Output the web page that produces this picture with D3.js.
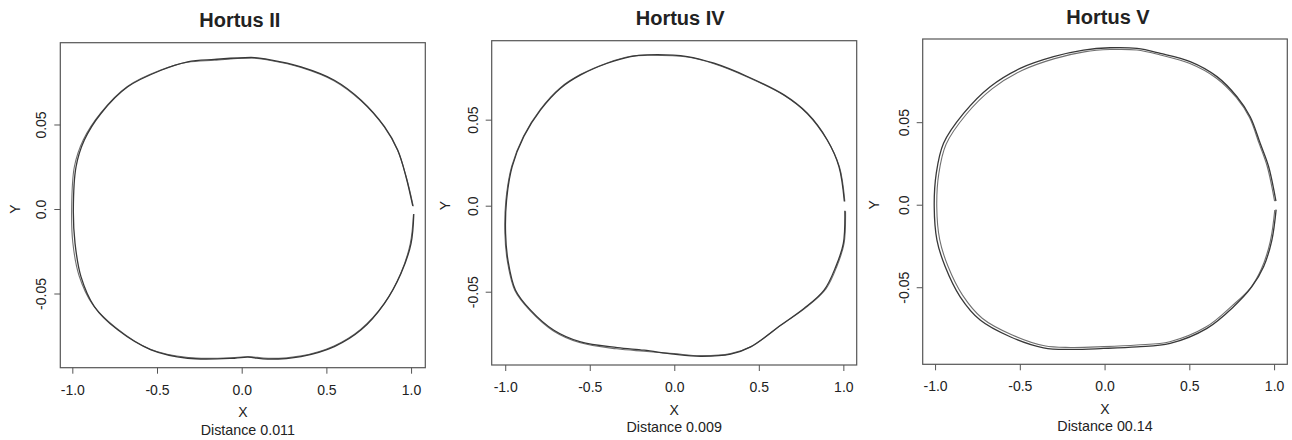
<!DOCTYPE html>
<html>
<head>
<meta charset="utf-8">
<script src="https://cdn.jsdelivr.net/npm/d3@7"></script>
<style>
  html, body { margin: 0; padding: 0; background: #fff; }
  svg { display: block; }
  text { font-family: "Liberation Sans", Arial, Helvetica, sans-serif; fill: #222; }
</style>
</head>
<body>
<svg id="chart" width="1292" height="440"></svg>
<script>
// ---------------- data ----------------
const titles = ["Hortus II", "Hortus IV", "Hortus V"];
const distanceLabels = ["Distance 0.011", "Distance 0.009", "Distance 00.14"];
const xAxisLabel = "X";
const yAxisLabel = "Y";
const xTickValues = [-1, -0.5, 0, 0.5, 1];
const xTickLabels = ["-1.0", "-0.5", "0.0", "0.5", "1.0"];
const yTickValues = [-0.05, 0, 0.05];
const yTickLabels = ["-0.05", "0.0", "0.05"];

// outline traces (x, y); two overlapping outlines per panel
const hortusII_a = [[1.010,0.0018],[0.970,0.0191],[0.921,0.0349],[0.843,0.0487],[0.705,0.0644],[0.547,0.0762],[0.350,0.0841],[0.154,0.0885],[0.075,0.0896],[-0.161,0.0885],[-0.319,0.0871],[-0.476,0.0821],[-0.673,0.0723],[-0.831,0.0565],[-0.929,0.0408],[-0.978,0.0250],[-0.994,-0.0006],[-0.984,-0.0203],[-0.949,-0.0400],[-0.870,-0.0577],[-0.732,-0.0715],[-0.535,-0.0833],[-0.319,-0.0883],[-0.043,-0.0883],[0.035,-0.0877],[0.154,-0.0888],[0.350,-0.0873],[0.547,-0.0814],[0.705,-0.0715],[0.843,-0.0558],[0.941,-0.0380],[1.000,-0.0203],[1.016,-0.0030]];
const hortusII_b = [[1.013,0.0016],[0.972,0.0188],[0.921,0.0346],[0.843,0.0484],[0.705,0.0640],[0.547,0.0758],[0.350,0.0838],[0.154,0.0882],[0.075,0.0893],[-0.161,0.0880],[-0.320,0.0868],[-0.478,0.0822],[-0.675,0.0725],[-0.833,0.0568],[-0.935,0.0410],[-0.988,0.0250],[-1.004,-0.0003],[-0.997,-0.0200],[-0.960,-0.0395],[-0.880,-0.0565],[-0.745,-0.0700],[-0.540,-0.0830],[-0.315,-0.0879],[-0.040,-0.0879],[0.040,-0.0873],[0.156,-0.0884],[0.352,-0.0869],[0.545,-0.0810],[0.702,-0.0712],[0.840,-0.0561],[0.938,-0.0383],[0.995,-0.0206],[1.014,-0.0032]];

const hortusIV_a = [[1.006,0.0025],[0.974,0.0227],[0.905,0.0382],[0.787,0.0537],[0.649,0.0644],[0.432,0.0751],[0.235,0.0828],[0.077,0.0867],[-0.160,0.0877],[-0.258,0.0867],[-0.396,0.0828],[-0.554,0.0760],[-0.673,0.0683],[-0.791,0.0557],[-0.890,0.0402],[-0.959,0.0227],[-0.992,0.0033],[-0.998,-0.0161],[-0.984,-0.0316],[-0.939,-0.0491],[-0.850,-0.0607],[-0.712,-0.0724],[-0.554,-0.0792],[-0.337,-0.0825],[-0.179,-0.0840],[-0.002,-0.0863],[0.156,-0.0875],[0.333,-0.0863],[0.452,-0.0821],[0.629,-0.0695],[0.767,-0.0598],[0.886,-0.0491],[0.955,-0.0355],[1.000,-0.0219],[1.009,-0.0030]];
const hortusIV_b = [[1.009,0.0024],[0.977,0.0225],[0.905,0.0380],[0.787,0.0534],[0.649,0.0641],[0.432,0.0748],[0.235,0.0825],[0.077,0.0864],[-0.160,0.0874],[-0.258,0.0869],[-0.397,0.0830],[-0.556,0.0762],[-0.675,0.0685],[-0.793,0.0559],[-0.892,0.0404],[-0.962,0.0228],[-0.996,0.0033],[-1.002,-0.0161],[-0.988,-0.0318],[-0.943,-0.0493],[-0.853,-0.0610],[-0.715,-0.0728],[-0.556,-0.0797],[-0.340,-0.0832],[-0.180,-0.0846],[-0.002,-0.0860],[0.156,-0.0872],[0.333,-0.0860],[0.455,-0.0818],[0.638,-0.0690],[0.782,-0.0590],[0.898,-0.0482],[0.962,-0.0352],[1.004,-0.0221],[1.013,-0.0032]];

const hortusV_a = [[1.011,0.0022],[0.968,0.0230],[0.918,0.0372],[0.859,0.0533],[0.781,0.0654],[0.663,0.0776],[0.505,0.0867],[0.329,0.0917],[0.191,0.0947],[0.033,0.0951],[-0.124,0.0937],[-0.301,0.0897],[-0.498,0.0826],[-0.675,0.0715],[-0.832,0.0553],[-0.950,0.0372],[-0.993,0.0190],[-1.005,-0.0012],[-0.989,-0.0214],[-0.940,-0.0376],[-0.852,-0.0558],[-0.734,-0.0699],[-0.557,-0.0800],[-0.360,-0.0867],[-0.203,-0.0877],[-0.006,-0.0871],[0.191,-0.0861],[0.387,-0.0840],[0.604,-0.0749],[0.761,-0.0618],[0.869,-0.0497],[0.938,-0.0376],[0.987,-0.0214],[1.012,-0.0030]];
const hortusV_b = [[1.003,0.0022],[0.960,0.0230],[0.912,0.0370],[0.855,0.0528],[0.778,0.0648],[0.658,0.0768],[0.500,0.0857],[0.329,0.0907],[0.191,0.0937],[0.033,0.0940],[-0.120,0.0926],[-0.295,0.0885],[-0.488,0.0813],[-0.662,0.0703],[-0.818,0.0545],[-0.935,0.0366],[-0.978,0.0188],[-0.990,-0.0012],[-0.973,-0.0210],[-0.925,-0.0370],[-0.838,-0.0548],[-0.722,-0.0688],[-0.548,-0.0788],[-0.355,-0.0855],[-0.200,-0.0865],[-0.006,-0.0860],[0.190,-0.0850],[0.385,-0.0830],[0.600,-0.0740],[0.755,-0.0610],[0.860,-0.0505],[0.925,-0.0390],[0.978,-0.0220],[1.004,-0.0032]];

const outlinesA = [hortusII_a, hortusIV_a, hortusV_a];
const outlinesB = [hortusII_b, hortusIV_b, hortusV_b];

// ---------------- layout ----------------
const panels = [
  { left: 60.3, top: 42.7, right: 425.3, bottom: 367.7, xd: [-1.071, 1.084], yd: [-0.0939, 0.0984], titleDx: -3, distDx: 5, yLabOff: 40 },
  { left: 491.7, top: 40.7, right: 856.7, bottom: 365.0, xd: [-1.080, 1.079], yd: [-0.0926, 0.0959], titleDx: 6, distDx: 0, yLabOff: 41.5 },
  { left: 922.7, top: 39.0, right: 1287.3, bottom: 364.3, xd: [-1.073, 1.078], yd: [-0.0967, 0.1004], titleDx: 3, distDx: 0, yLabOff: 44 }
];

const svg = d3.select("#chart");

panels.forEach((p, i) => {
  const x = d3.scaleLinear().domain(p.xd).range([p.left, p.right]);
  const y = d3.scaleLinear().domain(p.yd).range([p.bottom, p.top]);
  const g = svg.append("g");
  const cx = (p.left + p.right) / 2;

  // outlines
  const line = d3.line().x(d => x(d[0])).y(d => y(d[1])).curve(d3.curveCatmullRom.alpha(0.5));
  g.append("path").attr("d", line(outlinesB[i]))
    .attr("fill", "none").attr("stroke", "#707070").attr("stroke-width", 1.1);
  g.append("path").attr("d", line(outlinesA[i]))
    .attr("fill", "none").attr("stroke", "#383838").attr("stroke-width", 1.3);

  // box
  g.append("rect").attr("x", p.left).attr("y", p.top)
    .attr("width", p.right - p.left).attr("height", p.bottom - p.top)
    .attr("fill", "none").attr("stroke", "#555").attr("stroke-width", 1.2);

  // x axis
  const xa = g.append("g").attr("transform", `translate(0,${p.bottom})`)
    .call(d3.axisBottom(x).tickValues(xTickValues)
      .tickFormat((d, k) => xTickLabels[k]).tickSize(6).tickSizeOuter(0).tickPadding(11));
  xa.select(".domain").remove();
  xa.selectAll("line").attr("stroke", "#555");
  xa.selectAll("text").attr("font-size", 14).attr("fill", "#222")
    .style("font-family", '"Liberation Sans", Arial, sans-serif');

  // y axis
  const ya = g.append("g").attr("transform", `translate(${p.left},0)`)
    .call(d3.axisLeft(y).tickValues(yTickValues)
      .tickFormat((d, k) => yTickLabels[k]).tickSize(6).tickSizeOuter(0));
  ya.select(".domain").remove();
  ya.selectAll("line").attr("stroke", "#555");
  ya.selectAll("text")
    .attr("x", null).attr("dy", null)
    .attr("text-anchor", "middle")
    .attr("transform", "translate(-14,0) rotate(-90)")
    .attr("font-size", 14).attr("fill", "#222")
    .style("font-family", '"Liberation Sans", Arial, sans-serif');

  // titles and labels
  g.append("text").attr("x", cx + p.titleDx).attr("y", p.top - 15.5)
    .attr("text-anchor", "middle").attr("font-size", 20).attr("font-weight", "bold")
    .text(titles[i]);
  g.append("text").attr("x", cx).attr("y", p.bottom + 49.5)
    .attr("text-anchor", "middle").attr("font-size", 14).text(xAxisLabel);
  g.append("text").attr("x", cx + p.distDx).attr("y", p.bottom + 67)
    .attr("text-anchor", "middle").attr("font-size", 14.3).text(distanceLabels[i]);
  g.append("text")
    .attr("transform", `translate(${p.left - p.yLabOff},${y(0)}) rotate(-90)`)
    .attr("text-anchor", "middle").attr("font-size", 14).text(yAxisLabel);
});
</script>
</body>
</html>
